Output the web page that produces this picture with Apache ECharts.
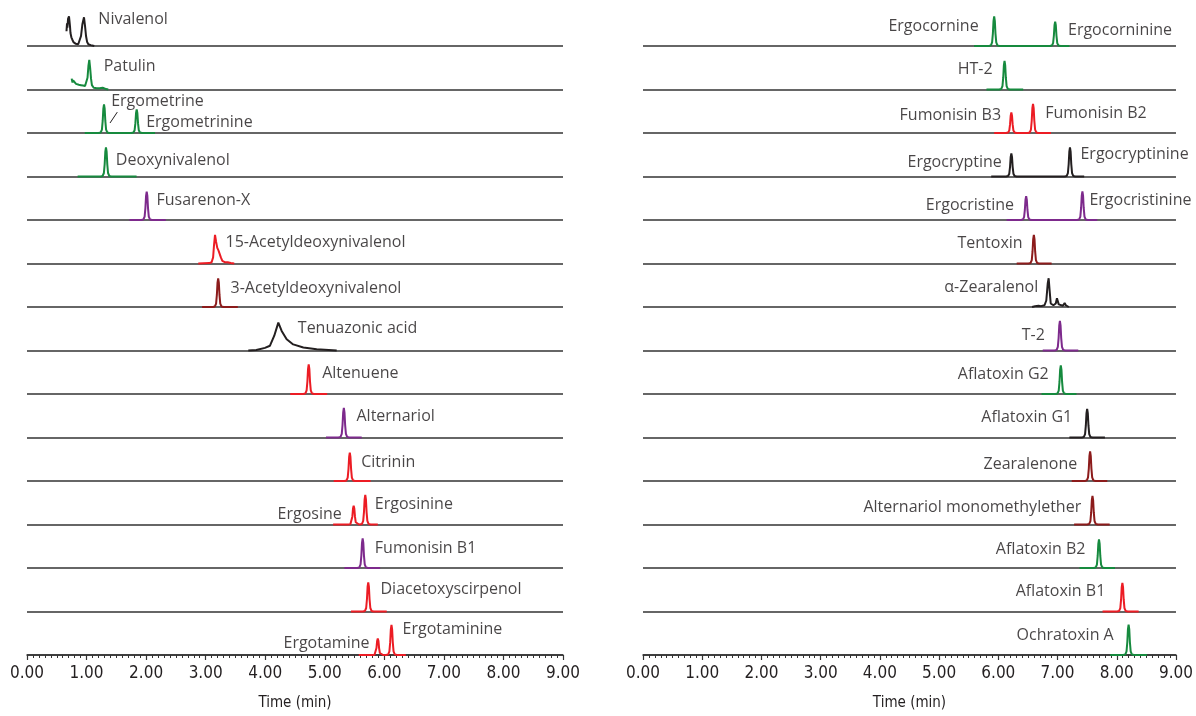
<!DOCTYPE html>
<html>
<head>
<meta charset="utf-8">
<script src="https://cdn.jsdelivr.net/npm/echarts@6/dist/echarts.min.js"></script>
<style>
  html, body { margin: 0; padding: 0; background: #fff; }
  #chart { width: 1196px; height: 716px; }
</style>
</head>
<body>
<div id="chart"></div>
<script>
// rows are counted from the top (0) to the bottom (14) of each panel
// peak table: [panel, row, compound, retention time (min), height (% of row gap)]
var peaks = [
    ['L', 2, 'Ergometrine', 1.293, 66],
    ['L', 2, 'Ergometrinine', 1.842, 54],
    ['L', 3, 'Deoxynivalenol', 1.326, 67],
    ['L', 4, 'Fusarenon-X', 2.01, 65],
    ['L', 6, '3-Acetyldeoxynivalenol', 3.21, 66],
    ['L', 8, 'Altenuene', 4.73, 68],
    ['L', 9, 'Alternariol', 5.32, 68],
    ['L', 10, 'Citrinin', 5.42, 65],
    ['L', 11, 'Ergosine', 5.485, 43],
    ['L', 11, 'Ergosinine', 5.68, 68],
    ['L', 12, 'Fumonisin B1', 5.636, 68],
    ['L', 13, 'Diacetoxyscirpenol', 5.73, 67],
    ['L', 14, 'Ergotamine', 5.89, 38],
    ['L', 14, 'Ergotaminine', 6.12, 69],
    ['R', 0, 'Ergocornine', 5.93, 68],
    ['R', 0, 'Ergocorninine', 6.96, 56],
    ['R', 1, 'HT-2', 6.105, 66],
    ['R', 2, 'Fumonisin B3', 6.22, 47],
    ['R', 2, 'Fumonisin B2', 6.586, 67],
    ['R', 3, 'Ergocryptine', 6.22, 53],
    ['R', 3, 'Ergocryptinine', 7.21, 67],
    ['R', 4, 'Ergocristine', 6.47, 55],
    ['R', 4, 'Ergocristinine', 7.42, 66],
    ['R', 5, 'Tentoxin', 6.60, 66],
    ['R', 7, 'T-2', 7.04, 68],
    ['R', 8, 'Aflatoxin G2', 7.055, 66],
    ['R', 9, 'Aflatoxin G1', 7.50, 66],
    ['R', 10, 'Zearalenone', 7.55, 68],
    ['R', 11, 'Alternariol monomethylether', 7.59, 66],
    ['R', 12, 'Aflatoxin B2', 7.70, 66],
    ['R', 13, 'Aflatoxin B1', 8.095, 66],
    ['R', 14, 'Ochratoxin A', 8.20, 70]
];

// recorded window of each trace: [panel, row, start (min), end (min)]
var windows = [
    ['L', 2, 0.97, 2.15], ['L', 3, 0.85, 1.84], ['L', 4, 1.72, 2.33],
    ['L', 6, 2.94, 3.54], ['L', 8, 4.42, 5.04], ['L', 9, 5.02, 5.62],
    ['L', 10, 5.15, 5.77], ['L', 11, 5.14, 5.89], ['L', 12, 5.33, 5.93],
    ['L', 13, 5.44, 6.04], ['L', 14, 5.57, 6.36],
    ['R', 0, 5.59, 7.20], ['R', 1, 5.80, 6.42], ['R', 2, 5.93, 6.89],
    ['R', 3, 5.88, 7.45], ['R', 4, 6.14, 7.67], ['R', 5, 6.31, 6.90],
    ['R', 7, 6.75, 7.35], ['R', 8, 6.73, 7.32], ['R', 9, 7.20, 7.80],
    ['R', 10, 7.24, 7.84], ['R', 11, 7.28, 7.88], ['R', 12, 7.37, 7.97],
    ['R', 13, 7.76, 8.37], ['R', 14, 7.89, 8.51]
];

// normalised peak shape: [offset (min), relative height]
var peakProfile = [
    [-0.09, 0], [-0.055, 0.02], [-0.035, 0.12], [-0.022, 0.42], [-0.011, 0.85],
    [0, 1], [0.011, 0.85], [0.022, 0.42], [0.035, 0.12], [0.055, 0.02], [0.09, 0]
];

// irregular traces, read point by point: [time (min), height (% of row gap)]
var nivalenol = [
    [0.663, 34], [0.672, 52], [0.678, 42], [0.69, 63], [0.705, 68], [0.715, 55],
    [0.722, 45], [0.73, 30], [0.745, 20], [0.76, 15], [0.78, 9], [0.82, 5],
    [0.86, 4], [0.89, 8], [0.907, 23], [0.93, 50], [0.957, 66], [0.975, 45],
    [0.991, 23], [1.01, 9], [1.03, 4], [1.07, 2], [1.13, 0]
];
var patulin = [
    [0.75, 25], [0.764, 16], [0.775, 21], [0.789, 17], [0.805, 19], [0.823, 13],
    [0.84, 17], [0.856, 15], [0.87, 11], [0.89, 13], [0.905, 10], [0.923, 13],
    [0.94, 9], [0.957, 10], [0.975, 8], [0.991, 11], [1.016, 27], [1.032, 55],
    [1.046, 68], [1.06, 50], [1.075, 25], [1.09, 10], [1.103, 6], [1.12, 4],
    [1.142, 5], [1.17, 3], [1.192, 6], [1.22, 3], [1.242, 2], [1.27, 4],
    [1.293, 3], [1.33, 1], [1.365, 0]
];
var adon15 = [
    [2.876, 0], [3.06, 1], [3.10, 3], [3.125, 14], [3.14, 42], [3.157, 66],
    [3.175, 50], [3.195, 36], [3.215, 30], [3.235, 22], [3.255, 14], [3.28, 6],
    [3.32, 3], [3.37, 3], [3.42, 1], [3.48, 0]
];
var tenuazonic = [
    [3.716, 0], [3.85, 1], [3.996, 6], [4.08, 11], [4.152, 34], [4.22, 64],
    [4.276, 45], [4.36, 26], [4.47, 14], [4.64, 7], [4.864, 3], [5.2, 0]
];
var zearalenolA = [
    [6.57, 0], [6.62, 2], [6.68, 3], [6.72, 2], [6.78, 4], [6.81, 15],
    [6.835, 55], [6.85, 66], [6.865, 40], [6.885, 8], [6.93, 4], [6.97, 8],
    [6.99, 20], [7.005, 18], [7.02, 6], [7.05, 4], [7.09, 3], [7.12, 9],
    [7.14, 4], [7.19, 0]
];
var rawTraces = { L0: nivalenol, L1: patulin, L5: adon15, L7: tenuazonic, R6: zearalenolA };

// ---- styles / layout (kept apart from the data) ----
var K = '#231f20', G = '#168a3e', RD = '#ec1c24', P = '#7d2a8c', D = '#8c1b1b';
var rowColors = {
    L: [K, G, G, G, P, RD, D, K, RD, P, RD, RD, P, RD, RD],
    R: [G, G, RD, K, P, D, K, P, G, K, D, D, G, RD, G]
};

// label anchors: [panel, row, text, time (min), height above baseline, side]
var labelLayout = [
    ['L', 0, 'Nivalenol', 1.19, 61, 'right'],
    ['L', 1, 'Patulin', 1.28, 53, 'right'],
    ['L', 2, 'Ergometrine', 1.405, 73, 'right'],
    ['L', 2, 'Ergometrinine', 1.993, 24, 'right'],
    ['L', 3, 'Deoxynivalenol', 1.483, 38, 'right'],
    ['L', 4, 'Fusarenon-X', 2.166, 44, 'right'],
    ['L', 5, '15-Acetyldeoxynivalenol', 3.325, 48, 'right'],
    ['L', 6, '3-Acetyldeoxynivalenol', 3.409, 42, 'right'],
    ['L', 7, 'Tenuazonic acid', 4.539, 50, 'right'],
    ['L', 8, 'Altenuene', 4.948, 48, 'right'],
    ['L', 9, 'Alternariol', 5.524, 48, 'right'],
    ['L', 10, 'Citrinin', 5.603, 43, 'right'],
    ['L', 11, 'Ergosine', 5.294, 23, 'left'],
    ['L', 11, 'Ergosinine', 5.832, 47, 'right'],
    ['L', 12, 'Fumonisin B1', 5.832, 45, 'right'],
    ['L', 13, 'Diacetoxyscirpenol', 5.927, 51, 'right'],
    ['L', 14, 'Ergotamine', 5.759, 27, 'left'],
    ['L', 14, 'Ergotaminine', 6.297, 59, 'right'],
    ['R', 0, 'Ergocornine', 5.676, 44, 'left'],
    ['R', 0, 'Ergocorninine', 7.168, 35, 'right'],
    ['R', 1, 'HT-2', 5.911, 46, 'left'],
    ['R', 2, 'Fumonisin B3', 6.055, 40, 'left'],
    ['R', 2, 'Fumonisin B2', 6.783, 45, 'right'],
    ['R', 3, 'Ergocryptine', 6.067, 33, 'left'],
    ['R', 3, 'Ergocryptinine', 7.379, 51, 'right'],
    ['R', 4, 'Ergocristine', 6.273, 33, 'left'],
    ['R', 4, 'Ergocristinine', 7.53, 44, 'right'],
    ['R', 5, 'Tentoxin', 6.419, 45, 'left'],
    ['R', 6, 'α-Zearalenol', 6.682, 44, 'left'],
    ['R', 7, 'T-2', 6.793, 35, 'left'],
    ['R', 8, 'Aflatoxin G2', 6.86, 46, 'left'],
    ['R', 9, 'Aflatoxin G1', 7.257, 45, 'left'],
    ['R', 10, 'Zearalenone', 7.341, 39, 'left'],
    ['R', 11, 'Alternariol monomethylether', 7.408, 39, 'left'],
    ['R', 12, 'Aflatoxin B2', 7.48, 43, 'left'],
    ['R', 13, 'Aflatoxin B1', 7.815, 47, 'left'],
    ['R', 14, 'Ochratoxin A', 7.957, 46, 'left']
];

var ROWS = 15, GAP = 100;
var panelIndex = { L: 0, R: 1 };

function rowBase(row) {
    return (ROWS - 1 - row) * GAP;
}

function buildTrace(panel, row) {
    var raw = rawTraces[panel + row];
    var pts = [];
    if (raw) {
        pts = raw.map(function (p) { return [p[0], p[1]]; });
    } else {
        var w = windows.filter(function (d) { return d[0] === panel && d[1] === row; })[0];
        if (!w) return null;
        var pk = peaks.filter(function (d) { return d[0] === panel && d[1] === row; })
            .sort(function (a, b) { return a[3] - b[3]; });
        pts.push([w[2], 0]);
        pk.forEach(function (p) {
            peakProfile.forEach(function (s) {
                pts.push([p[3] + s[0], p[4] * s[1]]);
            });
        });
        pts.push([w[3], 0]);
    }
    var base = rowBase(row);
    return pts.map(function (p) { return [p[0], base + p[1]]; });
}

var series = [];
['L', 'R'].forEach(function (panel) {
    for (var row = 0; row < ROWS; row++) {
        var data = buildTrace(panel, row);
        if (!data) continue;
        series.push({
            type: 'line',
            xAxisIndex: panelIndex[panel],
            yAxisIndex: panelIndex[panel],
            data: data,
            showSymbol: false,
            clip: false,
            silent: true,
            z: 3,
            lineStyle: { color: rowColors[panel][row], width: 2 }
        });
    }
    series.push({
        type: 'scatter',
        xAxisIndex: panelIndex[panel],
        yAxisIndex: panelIndex[panel],
        symbolSize: 1,
        clip: false,
        silent: true,
        z: 4,
        itemStyle: { color: 'rgba(0,0,0,0)' },
        data: labelLayout.filter(function (d) { return d[0] === panel; }).map(function (d) {
            return {
                value: [d[3], rowBase(d[1]) + d[4]],
                label: {
                    show: true,
                    position: d[5],
                    distance: 0,
                    formatter: d[2],
                    fontFamily: 'Open Sans',
                    fontSize: 16,
                    color: '#1a1718'
                }
            };
        })
    });
});

// little leader line that ties "Ergometrine" to its peak
series.push({
    type: 'line',
    xAxisIndex: 0,
    yAxisIndex: 0,
    data: [[1.394, rowBase(2) + 23], [1.516, rowBase(2) + 48]],
    showSymbol: false,
    clip: false,
    silent: true,
    lineStyle: { color: K, width: 1 }
});

function xAxisFor(idx) {
    return {
        type: 'value',
        gridIndex: idx,
        min: 0,
        max: 9,
        interval: 1,
        name: 'Time (min)',
        nameLocation: 'middle',
        nameGap: 41,
        nameTextStyle: {
            fontFamily: "'Liberation Sans Narrow', 'DejaVu Sans Condensed', sans-serif",
            fontSize: 15,
            color: K
        },
        axisLine: { lineStyle: { color: '#333', width: 1.5 } },
        axisTick: { length: 5, lineStyle: { color: '#333', width: 1.2 } },
        minorTick: { show: true, splitNumber: 10, length: 3, lineStyle: { color: '#333', width: 1 } },
        splitLine: { show: false },
        axisLabel: {
            formatter: function (v) { return v.toFixed(2); },
            fontFamily: "'Liberation Sans Narrow', 'DejaVu Sans Condensed', sans-serif",
            fontSize: 17,
            color: K,
            margin: 10
        }
    };
}

function yAxisFor(idx) {
    return {
        type: 'value',
        gridIndex: idx,
        min: 0,
        max: (ROWS - 1) * GAP,
        interval: GAP,
        axisLine: { show: false },
        axisTick: { show: false },
        axisLabel: { show: false },
        splitLine: { show: true, lineStyle: { color: '#333', width: 1.5 } }
    };
}

var chart = echarts.init(document.getElementById('chart'), null, { renderer: 'canvas' });
chart.setOption({
    animation: false,
    backgroundColor: '#fff',
    grid: [
        { left: 27, width: 536, top: 46, height: 619 },
        { left: 643, width: 537, top: 46, height: 619 }
    ],
    xAxis: [xAxisFor(0), xAxisFor(1)],
    yAxis: [yAxisFor(0), yAxisFor(1)],
    series: series
});
</script>
</body>
</html>
